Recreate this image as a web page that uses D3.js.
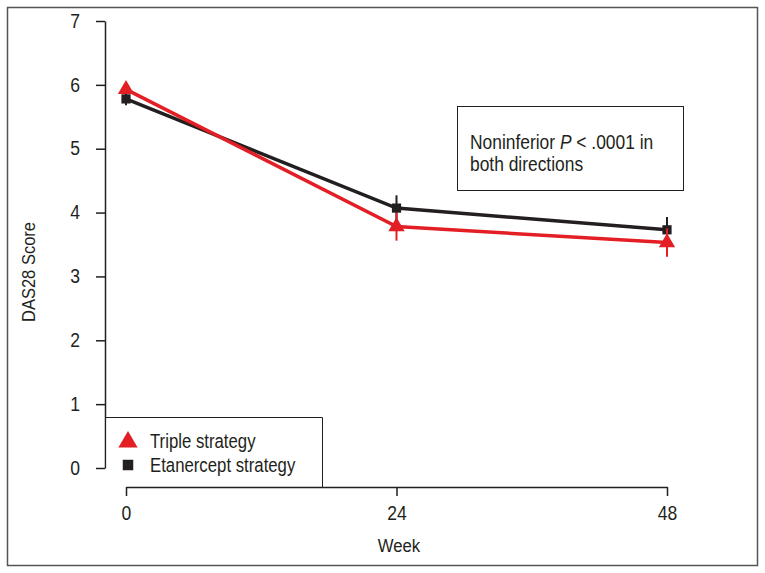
<!DOCTYPE html>
<html><head><meta charset="utf-8">
<script src="https://cdn.jsdelivr.net/npm/d3@7"></script>
<style>body{margin:0;background:#fff}</style>
</head><body>
<script>
const weeks = [0, 24, 48];
const tripleMean = [5.93, 3.78, 3.53];
const tripleErr = [0.06, 0.22, 0.22];
const etanMean = [5.78, 4.07, 3.73];
const etanErr = [0.1, 0.2, 0.2];
const yTicks = [0, 1, 2, 3, 4, 5, 6, 7];
const seriesNames = ["Triple strategy", "Etanercept strategy"];
const colors = ["#e31e24", "#231f20"];

const W = 765, H = 573;
const font = "'Liberation Sans Narrow','Liberation Sans','Arial Narrow',sans-serif";
const svg = d3.select("body").append("svg").attr("width", W).attr("height", H);

function condense(sel, k) {
  sel.each(function () {
    const t = d3.select(this);
    const x = +t.attr("x") || 0;
    const prev = t.attr("transform") || "";
    t.attr("transform", prev + ` translate(${x},0) scale(${k},1) translate(${-x},0)`);
  });
}

svg.append("rect").attr("x", 7.5).attr("y", 7.5).attr("width", 750).attr("height", 558)
  .attr("fill", "none").attr("stroke", "#555").attr("stroke-width", 1.5);

const x = d3.scaleLinear().domain([0, 48]).range([126, 667]);
const y = d3.scaleLinear().domain([0, 7]).range([468, 21]);

// y axis
const ya = svg.append("g").attr("transform", "translate(105,0)")
  .call(d3.axisLeft(y).tickValues(yTicks).tickFormat(d3.format("d")).tickSize(9).tickPadding(16).tickSizeOuter(0));
ya.select(".domain").attr("stroke", "#231f20").attr("stroke-width", 1.5);
ya.selectAll(".tick line").attr("stroke", "#231f20").attr("stroke-width", 1.5);
ya.selectAll("text").attr("font-family", font).attr("font-size", 19.5).attr("fill", "#231f20");
condense(ya.selectAll("text"), 0.9);

// x axis
const xa = svg.append("g").attr("transform", "translate(0,487)")
  .call(d3.axisBottom(x).tickValues(weeks).tickFormat(d3.format("d")).tickSize(9).tickPadding(10).tickSizeOuter(0));
xa.select(".domain").attr("stroke", "#231f20").attr("stroke-width", 1.5);
xa.selectAll(".tick line").attr("stroke", "#231f20").attr("stroke-width", 1.5);
xa.selectAll("text").attr("font-family", font).attr("font-size", 19.5).attr("fill", "#231f20");
condense(xa.selectAll("text"), 0.9);

const wk = svg.append("text").attr("x", 399).attr("y", 552).attr("text-anchor", "middle")
  .attr("font-family", font).attr("font-size", 19).attr("fill", "#231f20").text("Week");
condense(wk, 0.88);
const yl = svg.append("text").attr("transform", "translate(35,272) rotate(-90)").attr("text-anchor", "middle")
  .attr("font-family", font).attr("font-size", 19).attr("fill", "#231f20").text("DAS28 Score");
condense(yl, 0.87);

const line = d3.line().x(d => x(d[0])).y(d => y(d[1]));
const series = [
  {mean: etanMean, err: etanErr, color: colors[1], sym: d3.symbolSquare, size: 85},
  {mean: tripleMean, err: tripleErr, color: colors[0], sym: d3.symbolTriangle, size: 115}
];
series.forEach(s => {
  const pts = weeks.map((w, i) => [w, s.mean[i], s.err[i]]);
  svg.append("g").selectAll("line").data(pts).join("line")
    .attr("x1", d => x(d[0])).attr("x2", d => x(d[0]))
    .attr("y1", d => y(d[1] - d[2])).attr("y2", d => y(d[1] + d[2]))
    .attr("stroke", s.color).attr("stroke-width", 2);
  svg.append("path").datum(pts).attr("d", line).attr("fill", "none")
    .attr("stroke", s.color).attr("stroke-width", 3.5);
  svg.append("g").selectAll("path").data(pts).join("path")
    .attr("d", d3.symbol().type(s.sym).size(s.size))
    .attr("transform", d => `translate(${x(d[0])},${y(d[1])})`)
    .attr("fill", s.color);
});

// annotation
svg.append("rect").attr("x", 457.5).attr("y", 106.5).attr("width", 226).attr("height", 84)
  .attr("fill", "#fff").attr("stroke", "#231f20").attr("stroke-width", 1);
const ann = svg.append("text").attr("x", 470).attr("font-family", font).attr("font-size", 20).attr("fill", "#231f20");
const l1 = ann.append("tspan").attr("x", 470).attr("y", 149);
l1.append("tspan").text("Noninferior ");
l1.append("tspan").attr("font-style", "italic").text("P");
l1.append("tspan").text(" < .0001 in");
ann.append("tspan").attr("x", 470).attr("y", 171).text("both directions");
condense(ann, 0.87);

// legend
svg.append("path").attr("d", "M105.5,417.5 H322.5 V487")
  .attr("fill", "none").attr("stroke", "#231f20").attr("stroke-width", 1);
svg.append("rect").attr("x", 106.5).attr("y", 418).attr("width", 215).attr("height", 68).attr("fill", "#fff");
const legSyms = [d3.symbolTriangle, d3.symbolSquare];
const legSizes = [160, 110];
seriesNames.forEach((n, i) => {
  const ly = 441 + i * 24;
  svg.append("path").attr("d", d3.symbol().type(legSyms[i]).size(legSizes[i])())
    .attr("transform", `translate(128,${ly + (i === 0 ? 1 : 0)})`).attr("fill", colors[i]);
  const t = svg.append("text").attr("x", 150).attr("y", ly + 7).attr("font-family", font).attr("font-size", 19.5)
    .attr("fill", "#231f20").text(n);
  condense(t, 0.86);
});
</script>
</body></html>
